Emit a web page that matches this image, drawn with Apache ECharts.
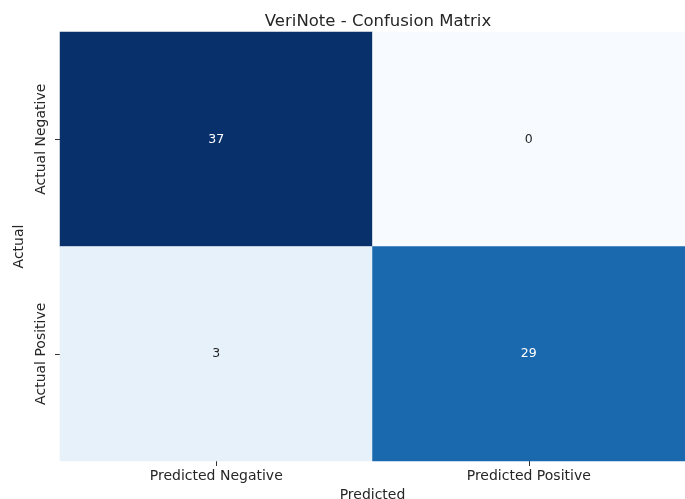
<!DOCTYPE html>
<html><head><meta charset="utf-8">
<script src="https://cdn.jsdelivr.net/npm/echarts@6/dist/echarts.min.js"></script>
<style>html,body{margin:0;padding:0;background:#fff}#c{width:685px;height:499px}</style>
</head><body><div id="c"></div>
<script>
const title = 'VeriNote - Confusion Matrix';
const predictedLabels = ['Predicted Negative', 'Predicted Positive'];
const actualLabels = ['Actual Negative', 'Actual Positive'];
const rowNegative = [37, 0];
const rowPositive = [3, 29];
const blues = ['#f7fbff','#deebf7','#c6dbef','#9ecae1','#6baed6','#4292c6','#2171b5','#08519c','#08306b'];

const rows = [rowNegative, rowPositive];
const data = [];
rows.forEach((r, yi) => r.forEach((v, xi) => data.push([xi, yi, v])));
const maxV = Math.max(...data.map(d => d[2]));
const minV = Math.min(...data.map(d => d[2]));

const font = 'DejaVu Sans';
const chart = echarts.init(document.getElementById('c'));
chart.setOption({
  animation: false,
  backgroundColor: '#fff',
  title: { text: title, left: 373, textAlign: 'center', top: 8, textStyle: { fontFamily: font, fontSize: 16.5, fontWeight: 'normal', color: '#262626' } },
  grid: { left: 60, right: 0, top: 32, bottom: 38, outerBoundsMode: 'none', containLabel: false },
  xAxis: {
    type: 'category', data: predictedLabels, name: 'Predicted', nameLocation: 'middle', nameGap: 25,
    nameTextStyle: { fontFamily: font, fontSize: 14, color: '#262626' },
    axisLine: { show: false }, splitArea: { show: false },
    axisTick: { show: true, alignWithLabel: true, length: 5, lineStyle: { color: '#333' } },
    axisLabel: { fontFamily: font, fontSize: 14, color: '#262626', margin: 8 }
  },
  yAxis: {
    type: 'category', data: actualLabels, inverse: true, name: 'Actual', nameLocation: 'middle', nameGap: 31,
    nameTextStyle: { fontFamily: font, fontSize: 14, color: '#262626' },
    axisLine: { show: false }, splitArea: { show: false },
    axisTick: { show: true, alignWithLabel: true, length: 5, lineStyle: { color: '#333' } },
    axisLabel: { fontFamily: font, fontSize: 14, color: '#262626', rotate: 90, margin: 12, align: 'center' }
  },
  visualMap: { show: false, min: minV, max: maxV, inRange: { color: blues }, dimension: 2 },
  series: [{
    type: 'heatmap',
    data: data.map(d => ({ value: d, label: { color: d[2] / maxV > 0.5 ? '#ffffff' : '#262626' } })),
    label: { show: true, fontFamily: font, fontSize: 12.5, formatter: p => String(p.value[2]) },
    itemStyle: { borderWidth: 0 }
  }]
});
</script></body></html>
